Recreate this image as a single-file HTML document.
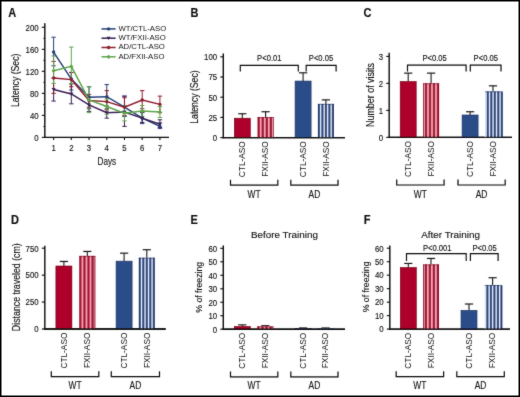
<!DOCTYPE html><html><head><meta charset="utf-8"><style>html,body{margin:0;padding:0;background:#fff;}svg{display:block;}text{font-family:"Liberation Sans",sans-serif;stroke:#141414;stroke-width:0.14px;} text.n{stroke-width:0;}</style></head><body>
<div style="will-change:transform;width:520px;height:397px">
<svg width="520" height="397" viewBox="0 0 520 397">
<defs><filter id="bl" x="-1%" y="-1%" width="102%" height="102%"><feConvolveMatrix order="3" kernelMatrix="0.02 0.06 0.02 0.06 0.68 0.06 0.02 0.06 0.02" divisor="1" edgeMode="duplicate" preserveAlpha="false"/></filter></defs>
<rect x="0" y="0" width="520" height="397" fill="#fff"/>
<g filter="url(#bl)">
<text x="8.20" y="16.50" font-size="12.0" text-anchor="start" font-weight="bold" fill="#111" textLength="7.97" lengthAdjust="spacingAndGlyphs">A</text>
<text x="190.40" y="16.50" font-size="12.0" text-anchor="start" font-weight="bold" fill="#111" textLength="7.97" lengthAdjust="spacingAndGlyphs">B</text>
<text x="363.60" y="16.50" font-size="12.0" text-anchor="start" font-weight="bold" fill="#111" textLength="7.97" lengthAdjust="spacingAndGlyphs">C</text>
<text x="11.00" y="223.80" font-size="12.0" text-anchor="start" font-weight="bold" fill="#111" textLength="7.97" lengthAdjust="spacingAndGlyphs">D</text>
<text x="190.60" y="223.80" font-size="12.0" text-anchor="start" font-weight="bold" fill="#111" textLength="7.36" lengthAdjust="spacingAndGlyphs">E</text>
<text x="363.80" y="223.80" font-size="12.0" text-anchor="start" font-weight="bold" fill="#111" textLength="6.74" lengthAdjust="spacingAndGlyphs">F</text>
<line x1="44.80" y1="23.20" x2="44.80" y2="138.00" stroke="#0a0a0a" stroke-width="1.4" />
<line x1="41.80" y1="137.40" x2="44.80" y2="137.40" stroke="#0a0a0a" stroke-width="1.1" />
<text x="38.60" y="140.70" font-size="8.4" text-anchor="end" font-weight="normal" fill="#141414" textLength="4.34" lengthAdjust="spacingAndGlyphs">0</text>
<line x1="41.80" y1="115.38" x2="44.80" y2="115.38" stroke="#0a0a0a" stroke-width="1.1" />
<text x="38.60" y="118.68" font-size="8.4" text-anchor="end" font-weight="normal" fill="#141414" textLength="8.69" lengthAdjust="spacingAndGlyphs">40</text>
<line x1="41.80" y1="93.36" x2="44.80" y2="93.36" stroke="#0a0a0a" stroke-width="1.1" />
<text x="38.60" y="96.66" font-size="8.4" text-anchor="end" font-weight="normal" fill="#141414" textLength="8.69" lengthAdjust="spacingAndGlyphs">80</text>
<line x1="41.80" y1="71.34" x2="44.80" y2="71.34" stroke="#0a0a0a" stroke-width="1.1" />
<text x="38.60" y="74.64" font-size="8.4" text-anchor="end" font-weight="normal" fill="#141414" textLength="13.03" lengthAdjust="spacingAndGlyphs">120</text>
<line x1="41.80" y1="49.32" x2="44.80" y2="49.32" stroke="#0a0a0a" stroke-width="1.1" />
<text x="38.60" y="52.62" font-size="8.4" text-anchor="end" font-weight="normal" fill="#141414" textLength="13.03" lengthAdjust="spacingAndGlyphs">160</text>
<line x1="41.80" y1="27.30" x2="44.80" y2="27.30" stroke="#0a0a0a" stroke-width="1.1" />
<text x="38.60" y="30.60" font-size="8.4" text-anchor="end" font-weight="normal" fill="#141414" textLength="13.03" lengthAdjust="spacingAndGlyphs">200</text>
<line x1="43.30" y1="126.39" x2="44.80" y2="126.39" stroke="#0a0a0a" stroke-width="0.9" />
<line x1="43.30" y1="104.37" x2="44.80" y2="104.37" stroke="#0a0a0a" stroke-width="0.9" />
<line x1="43.30" y1="82.35" x2="44.80" y2="82.35" stroke="#0a0a0a" stroke-width="0.9" />
<line x1="43.30" y1="60.33" x2="44.80" y2="60.33" stroke="#0a0a0a" stroke-width="0.9" />
<line x1="43.30" y1="38.31" x2="44.80" y2="38.31" stroke="#0a0a0a" stroke-width="0.9" />
<line x1="44.10" y1="137.40" x2="169.00" y2="137.40" stroke="#0a0a0a" stroke-width="1.4" />
<line x1="53.60" y1="137.40" x2="53.60" y2="140.00" stroke="#0a0a0a" stroke-width="1.1" />
<text x="53.60" y="151.40" font-size="8.4" text-anchor="middle" font-weight="normal" fill="#141414" textLength="4.34" lengthAdjust="spacingAndGlyphs">1</text>
<line x1="71.32" y1="137.40" x2="71.32" y2="140.00" stroke="#0a0a0a" stroke-width="1.1" />
<text x="71.32" y="151.40" font-size="8.4" text-anchor="middle" font-weight="normal" fill="#141414" textLength="4.34" lengthAdjust="spacingAndGlyphs">2</text>
<line x1="89.04" y1="137.40" x2="89.04" y2="140.00" stroke="#0a0a0a" stroke-width="1.1" />
<text x="89.04" y="151.40" font-size="8.4" text-anchor="middle" font-weight="normal" fill="#141414" textLength="4.34" lengthAdjust="spacingAndGlyphs">3</text>
<line x1="106.76" y1="137.40" x2="106.76" y2="140.00" stroke="#0a0a0a" stroke-width="1.1" />
<text x="106.76" y="151.40" font-size="8.4" text-anchor="middle" font-weight="normal" fill="#141414" textLength="4.34" lengthAdjust="spacingAndGlyphs">4</text>
<line x1="124.48" y1="137.40" x2="124.48" y2="140.00" stroke="#0a0a0a" stroke-width="1.1" />
<text x="124.48" y="151.40" font-size="8.4" text-anchor="middle" font-weight="normal" fill="#141414" textLength="4.34" lengthAdjust="spacingAndGlyphs">5</text>
<line x1="142.20" y1="137.40" x2="142.20" y2="140.00" stroke="#0a0a0a" stroke-width="1.1" />
<text x="142.20" y="151.40" font-size="8.4" text-anchor="middle" font-weight="normal" fill="#141414" textLength="4.34" lengthAdjust="spacingAndGlyphs">6</text>
<line x1="159.92" y1="137.40" x2="159.92" y2="140.00" stroke="#0a0a0a" stroke-width="1.1" />
<text x="159.92" y="151.40" font-size="8.4" text-anchor="middle" font-weight="normal" fill="#141414" textLength="4.34" lengthAdjust="spacingAndGlyphs">7</text>
<text x="106.80" y="164.50" font-size="10.2" text-anchor="middle" font-weight="normal" fill="#141414" textLength="18.59" lengthAdjust="spacingAndGlyphs">Days</text>
<text x="19.50" y="80.35" font-size="10.2" text-anchor="middle" font-weight="normal" fill="#141414" transform="rotate(-90 19.50 80.35)" textLength="53.55" lengthAdjust="spacingAndGlyphs">Latency (Sec)</text>
<line x1="53.60" y1="65.84" x2="53.60" y2="37.21" stroke="#283f78" stroke-width="1.0" />
<line x1="51.40" y1="65.84" x2="55.80" y2="65.84" stroke="#283f78" stroke-width="1.0" />
<line x1="51.40" y1="37.21" x2="55.80" y2="37.21" stroke="#283f78" stroke-width="1.0" />
<line x1="71.32" y1="90.06" x2="71.32" y2="72.44" stroke="#283f78" stroke-width="1.0" />
<line x1="69.12" y1="90.06" x2="73.52" y2="90.06" stroke="#283f78" stroke-width="1.0" />
<line x1="69.12" y1="72.44" x2="73.52" y2="72.44" stroke="#283f78" stroke-width="1.0" />
<line x1="89.04" y1="108.77" x2="89.04" y2="86.75" stroke="#283f78" stroke-width="1.0" />
<line x1="86.84" y1="108.77" x2="91.24" y2="108.77" stroke="#283f78" stroke-width="1.0" />
<line x1="86.84" y1="86.75" x2="91.24" y2="86.75" stroke="#283f78" stroke-width="1.0" />
<line x1="106.76" y1="108.77" x2="106.76" y2="84.55" stroke="#283f78" stroke-width="1.0" />
<line x1="104.56" y1="108.77" x2="108.96" y2="108.77" stroke="#283f78" stroke-width="1.0" />
<line x1="104.56" y1="84.55" x2="108.96" y2="84.55" stroke="#283f78" stroke-width="1.0" />
<line x1="124.48" y1="116.48" x2="124.48" y2="96.11" stroke="#283f78" stroke-width="1.0" />
<line x1="122.28" y1="116.48" x2="126.68" y2="116.48" stroke="#283f78" stroke-width="1.0" />
<line x1="122.28" y1="96.11" x2="126.68" y2="96.11" stroke="#283f78" stroke-width="1.0" />
<line x1="142.20" y1="123.64" x2="142.20" y2="112.08" stroke="#283f78" stroke-width="1.0" />
<line x1="140.00" y1="123.64" x2="144.40" y2="123.64" stroke="#283f78" stroke-width="1.0" />
<line x1="140.00" y1="112.08" x2="144.40" y2="112.08" stroke="#283f78" stroke-width="1.0" />
<line x1="159.92" y1="128.59" x2="159.92" y2="123.09" stroke="#283f78" stroke-width="1.0" />
<line x1="157.72" y1="128.59" x2="162.12" y2="128.59" stroke="#283f78" stroke-width="1.0" />
<line x1="157.72" y1="123.09" x2="162.12" y2="123.09" stroke="#283f78" stroke-width="1.0" />
<line x1="53.60" y1="101.07" x2="53.60" y2="77.95" stroke="#3a1f55" stroke-width="1.0" />
<line x1="51.40" y1="101.07" x2="55.80" y2="101.07" stroke="#3a1f55" stroke-width="1.0" />
<line x1="51.40" y1="77.95" x2="55.80" y2="77.95" stroke="#3a1f55" stroke-width="1.0" />
<line x1="71.32" y1="103.82" x2="71.32" y2="84.00" stroke="#3a1f55" stroke-width="1.0" />
<line x1="69.12" y1="103.82" x2="73.52" y2="103.82" stroke="#3a1f55" stroke-width="1.0" />
<line x1="69.12" y1="84.00" x2="73.52" y2="84.00" stroke="#3a1f55" stroke-width="1.0" />
<line x1="89.04" y1="111.53" x2="89.04" y2="97.21" stroke="#3a1f55" stroke-width="1.0" />
<line x1="86.84" y1="111.53" x2="91.24" y2="111.53" stroke="#3a1f55" stroke-width="1.0" />
<line x1="86.84" y1="97.21" x2="91.24" y2="97.21" stroke="#3a1f55" stroke-width="1.0" />
<line x1="106.76" y1="118.13" x2="106.76" y2="106.02" stroke="#3a1f55" stroke-width="1.0" />
<line x1="104.56" y1="118.13" x2="108.96" y2="118.13" stroke="#3a1f55" stroke-width="1.0" />
<line x1="104.56" y1="106.02" x2="108.96" y2="106.02" stroke="#3a1f55" stroke-width="1.0" />
<line x1="124.48" y1="126.39" x2="124.48" y2="96.11" stroke="#3a1f55" stroke-width="1.0" />
<line x1="122.28" y1="126.39" x2="126.68" y2="126.39" stroke="#3a1f55" stroke-width="1.0" />
<line x1="122.28" y1="96.11" x2="126.68" y2="96.11" stroke="#3a1f55" stroke-width="1.0" />
<line x1="142.20" y1="122.54" x2="142.20" y2="112.63" stroke="#3a1f55" stroke-width="1.0" />
<line x1="140.00" y1="122.54" x2="144.40" y2="122.54" stroke="#3a1f55" stroke-width="1.0" />
<line x1="140.00" y1="112.63" x2="144.40" y2="112.63" stroke="#3a1f55" stroke-width="1.0" />
<line x1="159.92" y1="127.49" x2="159.92" y2="119.78" stroke="#3a1f55" stroke-width="1.0" />
<line x1="157.72" y1="127.49" x2="162.12" y2="127.49" stroke="#3a1f55" stroke-width="1.0" />
<line x1="157.72" y1="119.78" x2="162.12" y2="119.78" stroke="#3a1f55" stroke-width="1.0" />
<line x1="53.60" y1="93.36" x2="53.60" y2="61.43" stroke="#8e1b2d" stroke-width="1.0" />
<line x1="51.40" y1="93.36" x2="55.80" y2="93.36" stroke="#8e1b2d" stroke-width="1.0" />
<line x1="51.40" y1="61.43" x2="55.80" y2="61.43" stroke="#8e1b2d" stroke-width="1.0" />
<line x1="71.32" y1="86.75" x2="71.32" y2="72.44" stroke="#8e1b2d" stroke-width="1.0" />
<line x1="69.12" y1="86.75" x2="73.52" y2="86.75" stroke="#8e1b2d" stroke-width="1.0" />
<line x1="69.12" y1="72.44" x2="73.52" y2="72.44" stroke="#8e1b2d" stroke-width="1.0" />
<line x1="89.04" y1="107.12" x2="89.04" y2="94.46" stroke="#8e1b2d" stroke-width="1.0" />
<line x1="86.84" y1="107.12" x2="91.24" y2="107.12" stroke="#8e1b2d" stroke-width="1.0" />
<line x1="86.84" y1="94.46" x2="91.24" y2="94.46" stroke="#8e1b2d" stroke-width="1.0" />
<line x1="106.76" y1="109.88" x2="106.76" y2="90.61" stroke="#8e1b2d" stroke-width="1.0" />
<line x1="104.56" y1="109.88" x2="108.96" y2="109.88" stroke="#8e1b2d" stroke-width="1.0" />
<line x1="104.56" y1="90.61" x2="108.96" y2="90.61" stroke="#8e1b2d" stroke-width="1.0" />
<line x1="124.48" y1="115.38" x2="124.48" y2="97.76" stroke="#8e1b2d" stroke-width="1.0" />
<line x1="122.28" y1="115.38" x2="126.68" y2="115.38" stroke="#8e1b2d" stroke-width="1.0" />
<line x1="122.28" y1="97.76" x2="126.68" y2="97.76" stroke="#8e1b2d" stroke-width="1.0" />
<line x1="142.20" y1="108.77" x2="142.20" y2="90.61" stroke="#8e1b2d" stroke-width="1.0" />
<line x1="140.00" y1="108.77" x2="144.40" y2="108.77" stroke="#8e1b2d" stroke-width="1.0" />
<line x1="140.00" y1="90.61" x2="144.40" y2="90.61" stroke="#8e1b2d" stroke-width="1.0" />
<line x1="159.92" y1="112.63" x2="159.92" y2="96.11" stroke="#8e1b2d" stroke-width="1.0" />
<line x1="157.72" y1="112.63" x2="162.12" y2="112.63" stroke="#8e1b2d" stroke-width="1.0" />
<line x1="157.72" y1="96.11" x2="162.12" y2="96.11" stroke="#8e1b2d" stroke-width="1.0" />
<line x1="53.60" y1="83.45" x2="53.60" y2="55.93" stroke="#5ea44c" stroke-width="1.0" />
<line x1="51.40" y1="83.45" x2="55.80" y2="83.45" stroke="#5ea44c" stroke-width="1.0" />
<line x1="51.40" y1="55.93" x2="55.80" y2="55.93" stroke="#5ea44c" stroke-width="1.0" />
<line x1="71.32" y1="83.45" x2="71.32" y2="47.12" stroke="#5ea44c" stroke-width="1.0" />
<line x1="69.12" y1="83.45" x2="73.52" y2="83.45" stroke="#5ea44c" stroke-width="1.0" />
<line x1="69.12" y1="47.12" x2="73.52" y2="47.12" stroke="#5ea44c" stroke-width="1.0" />
<line x1="89.04" y1="112.63" x2="89.04" y2="86.75" stroke="#5ea44c" stroke-width="1.0" />
<line x1="86.84" y1="112.63" x2="91.24" y2="112.63" stroke="#5ea44c" stroke-width="1.0" />
<line x1="86.84" y1="86.75" x2="91.24" y2="86.75" stroke="#5ea44c" stroke-width="1.0" />
<line x1="106.76" y1="114.28" x2="106.76" y2="98.87" stroke="#5ea44c" stroke-width="1.0" />
<line x1="104.56" y1="114.28" x2="108.96" y2="114.28" stroke="#5ea44c" stroke-width="1.0" />
<line x1="104.56" y1="98.87" x2="108.96" y2="98.87" stroke="#5ea44c" stroke-width="1.0" />
<line x1="124.48" y1="120.89" x2="124.48" y2="105.47" stroke="#5ea44c" stroke-width="1.0" />
<line x1="122.28" y1="120.89" x2="126.68" y2="120.89" stroke="#5ea44c" stroke-width="1.0" />
<line x1="122.28" y1="105.47" x2="126.68" y2="105.47" stroke="#5ea44c" stroke-width="1.0" />
<line x1="142.20" y1="116.48" x2="142.20" y2="105.47" stroke="#5ea44c" stroke-width="1.0" />
<line x1="140.00" y1="116.48" x2="144.40" y2="116.48" stroke="#5ea44c" stroke-width="1.0" />
<line x1="140.00" y1="105.47" x2="144.40" y2="105.47" stroke="#5ea44c" stroke-width="1.0" />
<line x1="159.92" y1="117.58" x2="159.92" y2="106.57" stroke="#5ea44c" stroke-width="1.0" />
<line x1="157.72" y1="117.58" x2="162.12" y2="117.58" stroke="#5ea44c" stroke-width="1.0" />
<line x1="157.72" y1="106.57" x2="162.12" y2="106.57" stroke="#5ea44c" stroke-width="1.0" />
<polyline points="53.60,52.07 71.32,79.05 89.04,97.21 106.76,96.66 124.48,107.12 142.20,118.13 159.92,126.39" fill="none" stroke="#283f78" stroke-width="1.5"/>
<circle cx="53.60" cy="52.07" r="1.7" fill="#283f78"/>
<circle cx="71.32" cy="79.05" r="1.7" fill="#283f78"/>
<circle cx="89.04" cy="97.21" r="1.7" fill="#283f78"/>
<circle cx="106.76" cy="96.66" r="1.7" fill="#283f78"/>
<circle cx="124.48" cy="107.12" r="1.7" fill="#283f78"/>
<circle cx="142.20" cy="118.13" r="1.7" fill="#283f78"/>
<circle cx="159.92" cy="126.39" r="1.7" fill="#283f78"/>
<polyline points="53.60,89.51 71.32,93.91 89.04,104.92 106.76,112.63 124.48,112.08 142.20,118.13 159.92,124.19" fill="none" stroke="#3a1f55" stroke-width="1.5"/>
<polygon points="51.60,88.01 55.60,88.01 53.60,91.31" fill="#3a1f55"/>
<polygon points="69.32,92.41 73.32,92.41 71.32,95.71" fill="#3a1f55"/>
<polygon points="87.04,103.42 91.04,103.42 89.04,106.72" fill="#3a1f55"/>
<polygon points="104.76,111.13 108.76,111.13 106.76,114.43" fill="#3a1f55"/>
<polygon points="122.48,110.58 126.48,110.58 124.48,113.88" fill="#3a1f55"/>
<polygon points="140.20,116.63 144.20,116.63 142.20,119.93" fill="#3a1f55"/>
<polygon points="157.92,122.69 161.92,122.69 159.92,125.99" fill="#3a1f55"/>
<polyline points="53.60,77.95 71.32,79.60 89.04,100.52 106.76,101.62 124.48,107.12 142.20,99.97 159.92,104.37" fill="none" stroke="#8e1b2d" stroke-width="1.5"/>
<circle cx="53.60" cy="77.95" r="1.7" fill="#8e1b2d"/>
<circle cx="71.32" cy="79.60" r="1.7" fill="#8e1b2d"/>
<circle cx="89.04" cy="100.52" r="1.7" fill="#8e1b2d"/>
<circle cx="106.76" cy="101.62" r="1.7" fill="#8e1b2d"/>
<circle cx="124.48" cy="107.12" r="1.7" fill="#8e1b2d"/>
<circle cx="142.20" cy="99.97" r="1.7" fill="#8e1b2d"/>
<circle cx="159.92" cy="104.37" r="1.7" fill="#8e1b2d"/>
<polyline points="53.60,70.79 71.32,66.39 89.04,99.97 106.76,106.57 124.48,113.18 142.20,110.98 159.92,112.08" fill="none" stroke="#5ea44c" stroke-width="1.5"/>
<polygon points="53.60,68.69 55.70,70.79 53.60,72.89 51.50,70.79" fill="#5ea44c"/>
<polygon points="71.32,64.29 73.42,66.39 71.32,68.49 69.22,66.39" fill="#5ea44c"/>
<polygon points="89.04,97.87 91.14,99.97 89.04,102.07 86.94,99.97" fill="#5ea44c"/>
<polygon points="106.76,104.47 108.86,106.57 106.76,108.67 104.66,106.57" fill="#5ea44c"/>
<polygon points="124.48,111.08 126.58,113.18 124.48,115.28 122.38,113.18" fill="#5ea44c"/>
<polygon points="142.20,108.88 144.30,110.98 142.20,113.08 140.10,110.98" fill="#5ea44c"/>
<polygon points="159.92,109.98 162.02,112.08 159.92,114.18 157.82,112.08" fill="#5ea44c"/>
<line x1="101.50" y1="28.90" x2="115.60" y2="28.90" stroke="#283f78" stroke-width="1.5" />
<circle cx="108.60" cy="28.90" r="1.7" fill="#283f78"/>
<text class="n" x="118.40" y="30.80" font-size="7.75" text-anchor="start" font-weight="normal" fill="#141414">WT/CTL-ASO</text>
<line x1="101.50" y1="38.20" x2="115.60" y2="38.20" stroke="#3a1f55" stroke-width="1.5" />
<polygon points="106.60,36.70 110.60,36.70 108.60,40.00" fill="#3a1f55"/>
<text class="n" x="118.40" y="40.10" font-size="7.75" text-anchor="start" font-weight="normal" fill="#141414">WT/FXII-ASO</text>
<line x1="101.50" y1="47.50" x2="115.60" y2="47.50" stroke="#8e1b2d" stroke-width="1.5" />
<circle cx="108.60" cy="47.50" r="1.7" fill="#8e1b2d"/>
<text class="n" x="118.40" y="49.40" font-size="7.75" text-anchor="start" font-weight="normal" fill="#141414">AD/CTL-ASO</text>
<line x1="101.50" y1="56.80" x2="115.60" y2="56.80" stroke="#5ea44c" stroke-width="1.5" />
<polygon points="108.60,54.70 110.70,56.80 108.60,58.90 106.50,56.80" fill="#5ea44c"/>
<text class="n" x="118.40" y="58.70" font-size="7.75" text-anchor="start" font-weight="normal" fill="#141414">AD/FXII-ASO</text>
<line x1="223.30" y1="53.40" x2="223.30" y2="138.20" stroke="#0a0a0a" stroke-width="1.4" />
<line x1="220.30" y1="137.60" x2="223.30" y2="137.60" stroke="#0a0a0a" stroke-width="1.1" />
<text x="217.10" y="140.90" font-size="8.4" text-anchor="end" font-weight="normal" fill="#141414" textLength="4.34" lengthAdjust="spacingAndGlyphs">0</text>
<line x1="220.30" y1="117.40" x2="223.30" y2="117.40" stroke="#0a0a0a" stroke-width="1.1" />
<text x="217.10" y="120.70" font-size="8.4" text-anchor="end" font-weight="normal" fill="#141414" textLength="8.69" lengthAdjust="spacingAndGlyphs">25</text>
<line x1="220.30" y1="97.20" x2="223.30" y2="97.20" stroke="#0a0a0a" stroke-width="1.1" />
<text x="217.10" y="100.50" font-size="8.4" text-anchor="end" font-weight="normal" fill="#141414" textLength="8.69" lengthAdjust="spacingAndGlyphs">50</text>
<line x1="220.30" y1="77.00" x2="223.30" y2="77.00" stroke="#0a0a0a" stroke-width="1.1" />
<text x="217.10" y="80.30" font-size="8.4" text-anchor="end" font-weight="normal" fill="#141414" textLength="8.69" lengthAdjust="spacingAndGlyphs">75</text>
<line x1="220.30" y1="56.80" x2="223.30" y2="56.80" stroke="#0a0a0a" stroke-width="1.1" />
<text x="217.10" y="60.10" font-size="8.4" text-anchor="end" font-weight="normal" fill="#141414" textLength="13.03" lengthAdjust="spacingAndGlyphs">100</text>
<line x1="222.60" y1="137.60" x2="345.00" y2="137.60" stroke="#0a0a0a" stroke-width="1.4" />
<line x1="242.30" y1="118.21" x2="242.30" y2="113.76" stroke="#1a1a1a" stroke-width="1.1" />
<line x1="238.20" y1="113.76" x2="246.40" y2="113.76" stroke="#1a1a1a" stroke-width="1.2" />
<rect x="234.30" y="118.21" width="16.00" height="19.39" fill="#ad0329" stroke="#6a0018" stroke-width="0.6"/>
<line x1="265.60" y1="117.24" x2="265.60" y2="111.74" stroke="#1a1a1a" stroke-width="1.1" />
<line x1="261.50" y1="111.74" x2="269.70" y2="111.74" stroke="#1a1a1a" stroke-width="1.2" />
<rect x="257.60" y="117.24" width="16.00" height="20.36" fill="#f79cb1"/>
<rect x="257.60" y="117.24" width="2.20" height="20.36" fill="#9c0a2c"/>
<rect x="261.65" y="117.24" width="2.20" height="20.36" fill="#9c0a2c"/>
<rect x="265.70" y="117.24" width="2.20" height="20.36" fill="#9c0a2c"/>
<rect x="269.75" y="117.24" width="2.20" height="20.36" fill="#9c0a2c"/>
<rect x="272.90" y="117.24" width="0.7" height="20.36" fill="#6a0018"/>
<line x1="257.60" y1="117.54" x2="273.60" y2="117.54" stroke="#6a0018" stroke-width="0.6"/>
<line x1="303.10" y1="81.04" x2="303.10" y2="72.80" stroke="#1a1a1a" stroke-width="1.1" />
<line x1="299.00" y1="72.80" x2="307.20" y2="72.80" stroke="#1a1a1a" stroke-width="1.2" />
<rect x="295.10" y="81.04" width="16.00" height="56.56" fill="#2c4d8a" stroke="#1c2f58" stroke-width="0.6"/>
<line x1="325.90" y1="103.99" x2="325.90" y2="99.87" stroke="#1a1a1a" stroke-width="1.1" />
<line x1="321.80" y1="99.87" x2="330.00" y2="99.87" stroke="#1a1a1a" stroke-width="1.2" />
<rect x="317.90" y="103.99" width="16.00" height="33.61" fill="#d6e2fa"/>
<rect x="317.90" y="103.99" width="2.00" height="33.61" fill="#223a6e"/>
<rect x="321.40" y="103.99" width="2.00" height="33.61" fill="#223a6e"/>
<rect x="324.90" y="103.99" width="2.00" height="33.61" fill="#223a6e"/>
<rect x="328.40" y="103.99" width="2.00" height="33.61" fill="#223a6e"/>
<rect x="331.90" y="103.99" width="2.00" height="33.61" fill="#223a6e"/>
<line x1="317.90" y1="104.29" x2="333.90" y2="104.29" stroke="#1c2f58" stroke-width="0.6"/>
<line x1="222.60" y1="137.60" x2="345.00" y2="137.60" stroke="#0a0a0a" stroke-width="1.4" />
<text class="n" x="245.16" y="141.20" font-size="8.3" text-anchor="end" font-weight="normal" fill="#141414" transform="rotate(-90 245.16 141.20)" textLength="35.97" lengthAdjust="spacingAndGlyphs">CTL-ASO</text>
<text class="n" x="268.46" y="141.20" font-size="8.3" text-anchor="end" font-weight="normal" fill="#141414" transform="rotate(-90 268.46 141.20)" textLength="35.51" lengthAdjust="spacingAndGlyphs">FXII-ASO</text>
<text class="n" x="305.96" y="141.20" font-size="8.3" text-anchor="end" font-weight="normal" fill="#141414" transform="rotate(-90 305.96 141.20)" textLength="35.97" lengthAdjust="spacingAndGlyphs">CTL-ASO</text>
<text class="n" x="328.76" y="141.20" font-size="8.3" text-anchor="end" font-weight="normal" fill="#141414" transform="rotate(-90 328.76 141.20)" textLength="35.51" lengthAdjust="spacingAndGlyphs">FXII-ASO</text>
<polyline points="230.50,179.80 230.50,185.20 277.80,185.20 277.80,179.80" fill="none" stroke="#0a0a0a" stroke-width="1.2"/>
<text x="254.15" y="197.70" font-size="10.0" text-anchor="middle" font-weight="normal" fill="#141414" textLength="13.06" lengthAdjust="spacingAndGlyphs">WT</text>
<polyline points="290.80,179.80 290.80,185.20 338.00,185.20 338.00,179.80" fill="none" stroke="#0a0a0a" stroke-width="1.2"/>
<text x="314.40" y="197.70" font-size="10.0" text-anchor="middle" font-weight="normal" fill="#141414" textLength="11.67" lengthAdjust="spacingAndGlyphs">AD</text>
<text x="198.10" y="97.05" font-size="10.2" text-anchor="middle" font-weight="normal" fill="#141414" transform="rotate(-90 198.10 97.05)" textLength="53.35" lengthAdjust="spacingAndGlyphs">Latency (Sec)</text>
<polyline points="240.30,71.40 240.30,65.30 298.30,65.30 298.30,71.40" fill="none" stroke="#0a0a0a" stroke-width="1.15"/>
<text x="269.30" y="61.40" font-size="8.2" text-anchor="middle" font-weight="normal" fill="#141414" textLength="24.38" lengthAdjust="spacingAndGlyphs">P&lt;0.01</text>
<polyline points="306.20,71.40 306.20,65.30 336.10,65.30 336.10,71.40" fill="none" stroke="#0a0a0a" stroke-width="1.15"/>
<text x="321.00" y="61.40" font-size="8.2" text-anchor="middle" font-weight="normal" fill="#141414" textLength="24.38" lengthAdjust="spacingAndGlyphs">P&lt;0.05</text>
<line x1="389.20" y1="52.80" x2="389.20" y2="138.00" stroke="#0a0a0a" stroke-width="1.4" />
<line x1="386.20" y1="137.40" x2="389.20" y2="137.40" stroke="#0a0a0a" stroke-width="1.1" />
<text x="383.00" y="140.70" font-size="8.4" text-anchor="end" font-weight="normal" fill="#141414" textLength="4.34" lengthAdjust="spacingAndGlyphs">0</text>
<line x1="386.20" y1="110.40" x2="389.20" y2="110.40" stroke="#0a0a0a" stroke-width="1.1" />
<text x="383.00" y="113.70" font-size="8.4" text-anchor="end" font-weight="normal" fill="#141414" textLength="4.34" lengthAdjust="spacingAndGlyphs">1</text>
<line x1="386.20" y1="83.40" x2="389.20" y2="83.40" stroke="#0a0a0a" stroke-width="1.1" />
<text x="383.00" y="86.70" font-size="8.4" text-anchor="end" font-weight="normal" fill="#141414" textLength="4.34" lengthAdjust="spacingAndGlyphs">2</text>
<line x1="386.20" y1="56.40" x2="389.20" y2="56.40" stroke="#0a0a0a" stroke-width="1.1" />
<text x="383.00" y="59.70" font-size="8.4" text-anchor="end" font-weight="normal" fill="#141414" textLength="4.34" lengthAdjust="spacingAndGlyphs">3</text>
<line x1="388.50" y1="137.40" x2="511.90" y2="137.40" stroke="#0a0a0a" stroke-width="1.4" />
<line x1="408.20" y1="81.51" x2="408.20" y2="73.14" stroke="#1a1a1a" stroke-width="1.1" />
<line x1="404.10" y1="73.14" x2="412.30" y2="73.14" stroke="#1a1a1a" stroke-width="1.2" />
<rect x="400.20" y="81.51" width="16.00" height="55.89" fill="#ad0329" stroke="#6a0018" stroke-width="0.6"/>
<line x1="431.10" y1="83.40" x2="431.10" y2="73.14" stroke="#1a1a1a" stroke-width="1.1" />
<line x1="427.00" y1="73.14" x2="435.20" y2="73.14" stroke="#1a1a1a" stroke-width="1.2" />
<rect x="423.10" y="83.40" width="16.00" height="54.00" fill="#f79cb1"/>
<rect x="424.90" y="83.40" width="2.20" height="54.00" fill="#9c0a2c"/>
<rect x="428.90" y="83.40" width="2.20" height="54.00" fill="#9c0a2c"/>
<rect x="432.90" y="83.40" width="2.20" height="54.00" fill="#9c0a2c"/>
<rect x="436.90" y="83.40" width="2.20" height="54.00" fill="#9c0a2c"/>
<rect x="423.10" y="83.40" width="0.7" height="54.00" fill="#6a0018"/>
<line x1="423.10" y1="83.70" x2="439.10" y2="83.70" stroke="#6a0018" stroke-width="0.6"/>
<line x1="470.10" y1="114.99" x2="470.10" y2="111.75" stroke="#1a1a1a" stroke-width="1.1" />
<line x1="466.00" y1="111.75" x2="474.20" y2="111.75" stroke="#1a1a1a" stroke-width="1.2" />
<rect x="462.10" y="114.99" width="16.00" height="22.41" fill="#2c4d8a" stroke="#1c2f58" stroke-width="0.6"/>
<line x1="493.00" y1="91.50" x2="493.00" y2="85.83" stroke="#1a1a1a" stroke-width="1.1" />
<line x1="488.90" y1="85.83" x2="497.10" y2="85.83" stroke="#1a1a1a" stroke-width="1.2" />
<rect x="485.00" y="91.50" width="16.00" height="45.90" fill="#d6e2fa"/>
<rect x="486.80" y="91.50" width="2.00" height="45.90" fill="#223a6e"/>
<rect x="490.30" y="91.50" width="2.00" height="45.90" fill="#223a6e"/>
<rect x="493.80" y="91.50" width="2.00" height="45.90" fill="#223a6e"/>
<rect x="497.30" y="91.50" width="2.00" height="45.90" fill="#223a6e"/>
<rect x="500.80" y="91.50" width="2.00" height="45.90" fill="#223a6e"/>
<line x1="485.00" y1="91.80" x2="501.00" y2="91.80" stroke="#1c2f58" stroke-width="0.6"/>
<line x1="388.50" y1="137.40" x2="511.90" y2="137.40" stroke="#0a0a0a" stroke-width="1.4" />
<text class="n" x="411.06" y="141.00" font-size="8.3" text-anchor="end" font-weight="normal" fill="#141414" transform="rotate(-90 411.06 141.00)" textLength="35.97" lengthAdjust="spacingAndGlyphs">CTL-ASO</text>
<text class="n" x="433.96" y="141.00" font-size="8.3" text-anchor="end" font-weight="normal" fill="#141414" transform="rotate(-90 433.96 141.00)" textLength="35.51" lengthAdjust="spacingAndGlyphs">FXII-ASO</text>
<text class="n" x="472.96" y="141.00" font-size="8.3" text-anchor="end" font-weight="normal" fill="#141414" transform="rotate(-90 472.96 141.00)" textLength="35.97" lengthAdjust="spacingAndGlyphs">CTL-ASO</text>
<text class="n" x="495.86" y="141.00" font-size="8.3" text-anchor="end" font-weight="normal" fill="#141414" transform="rotate(-90 495.86 141.00)" textLength="35.51" lengthAdjust="spacingAndGlyphs">FXII-ASO</text>
<polyline points="396.70,179.60 396.70,185.00 444.10,185.00 444.10,179.60" fill="none" stroke="#0a0a0a" stroke-width="1.2"/>
<text x="420.40" y="197.50" font-size="10.0" text-anchor="middle" font-weight="normal" fill="#141414" textLength="13.06" lengthAdjust="spacingAndGlyphs">WT</text>
<polyline points="458.00,179.60 458.00,185.00 505.20,185.00 505.20,179.60" fill="none" stroke="#0a0a0a" stroke-width="1.2"/>
<text x="481.60" y="197.50" font-size="10.0" text-anchor="middle" font-weight="normal" fill="#141414" textLength="11.67" lengthAdjust="spacingAndGlyphs">AD</text>
<text x="373.60" y="95.05" font-size="10.2" text-anchor="middle" font-weight="normal" fill="#141414" transform="rotate(-90 373.60 95.05)" textLength="63.95" lengthAdjust="spacingAndGlyphs">Number of visits</text>
<polyline points="407.50,71.50 407.50,65.10 466.10,65.10 466.10,71.50" fill="none" stroke="#0a0a0a" stroke-width="1.15"/>
<text x="434.60" y="61.10" font-size="8.2" text-anchor="middle" font-weight="normal" fill="#141414" textLength="24.38" lengthAdjust="spacingAndGlyphs">P&lt;0.05</text>
<polyline points="470.30,71.50 470.30,65.10 501.00,65.10 501.00,71.50" fill="none" stroke="#0a0a0a" stroke-width="1.15"/>
<text x="485.80" y="61.10" font-size="8.2" text-anchor="middle" font-weight="normal" fill="#141414" textLength="24.38" lengthAdjust="spacingAndGlyphs">P&lt;0.05</text>
<line x1="44.80" y1="245.80" x2="44.80" y2="329.60" stroke="#0a0a0a" stroke-width="1.4" />
<line x1="41.80" y1="329.00" x2="44.80" y2="329.00" stroke="#0a0a0a" stroke-width="1.1" />
<text x="38.60" y="332.30" font-size="8.4" text-anchor="end" font-weight="normal" fill="#141414" textLength="4.34" lengthAdjust="spacingAndGlyphs">0</text>
<line x1="41.80" y1="302.07" x2="44.80" y2="302.07" stroke="#0a0a0a" stroke-width="1.1" />
<text x="38.60" y="305.38" font-size="8.4" text-anchor="end" font-weight="normal" fill="#141414" textLength="13.03" lengthAdjust="spacingAndGlyphs">250</text>
<line x1="41.80" y1="275.15" x2="44.80" y2="275.15" stroke="#0a0a0a" stroke-width="1.1" />
<text x="38.60" y="278.45" font-size="8.4" text-anchor="end" font-weight="normal" fill="#141414" textLength="13.03" lengthAdjust="spacingAndGlyphs">500</text>
<line x1="41.80" y1="248.22" x2="44.80" y2="248.22" stroke="#0a0a0a" stroke-width="1.1" />
<text x="38.60" y="251.53" font-size="8.4" text-anchor="end" font-weight="normal" fill="#141414" textLength="13.03" lengthAdjust="spacingAndGlyphs">750</text>
<line x1="44.10" y1="329.00" x2="165.70" y2="329.00" stroke="#0a0a0a" stroke-width="1.4" />
<line x1="63.90" y1="266.00" x2="63.90" y2="261.47" stroke="#1a1a1a" stroke-width="1.1" />
<line x1="59.80" y1="261.47" x2="68.00" y2="261.47" stroke="#1a1a1a" stroke-width="1.2" />
<rect x="55.90" y="266.00" width="16.00" height="63.00" fill="#ad0329" stroke="#6a0018" stroke-width="0.6"/>
<line x1="87.30" y1="255.98" x2="87.30" y2="251.46" stroke="#1a1a1a" stroke-width="1.1" />
<line x1="83.20" y1="251.46" x2="91.40" y2="251.46" stroke="#1a1a1a" stroke-width="1.2" />
<rect x="79.30" y="255.98" width="16.00" height="73.02" fill="#f79cb1"/>
<rect x="79.30" y="255.98" width="2.20" height="73.02" fill="#9c0a2c"/>
<rect x="83.35" y="255.98" width="2.20" height="73.02" fill="#9c0a2c"/>
<rect x="87.40" y="255.98" width="2.20" height="73.02" fill="#9c0a2c"/>
<rect x="91.45" y="255.98" width="2.20" height="73.02" fill="#9c0a2c"/>
<rect x="94.60" y="255.98" width="0.7" height="73.02" fill="#6a0018"/>
<line x1="79.30" y1="256.28" x2="95.30" y2="256.28" stroke="#6a0018" stroke-width="0.6"/>
<line x1="124.10" y1="261.15" x2="124.10" y2="253.18" stroke="#1a1a1a" stroke-width="1.1" />
<line x1="120.00" y1="253.18" x2="128.20" y2="253.18" stroke="#1a1a1a" stroke-width="1.2" />
<rect x="116.10" y="261.15" width="16.00" height="67.85" fill="#2c4d8a" stroke="#1c2f58" stroke-width="0.6"/>
<line x1="146.80" y1="257.81" x2="146.80" y2="249.73" stroke="#1a1a1a" stroke-width="1.1" />
<line x1="142.70" y1="249.73" x2="150.90" y2="249.73" stroke="#1a1a1a" stroke-width="1.2" />
<rect x="138.80" y="257.81" width="16.00" height="71.19" fill="#d6e2fa"/>
<rect x="138.80" y="257.81" width="2.00" height="71.19" fill="#223a6e"/>
<rect x="142.30" y="257.81" width="2.00" height="71.19" fill="#223a6e"/>
<rect x="145.80" y="257.81" width="2.00" height="71.19" fill="#223a6e"/>
<rect x="149.30" y="257.81" width="2.00" height="71.19" fill="#223a6e"/>
<rect x="152.80" y="257.81" width="2.00" height="71.19" fill="#223a6e"/>
<line x1="138.80" y1="258.11" x2="154.80" y2="258.11" stroke="#1c2f58" stroke-width="0.6"/>
<line x1="44.10" y1="329.00" x2="165.70" y2="329.00" stroke="#0a0a0a" stroke-width="1.4" />
<text class="n" x="66.76" y="332.60" font-size="8.3" text-anchor="end" font-weight="normal" fill="#141414" transform="rotate(-90 66.76 332.60)" textLength="35.97" lengthAdjust="spacingAndGlyphs">CTL-ASO</text>
<text class="n" x="90.16" y="332.60" font-size="8.3" text-anchor="end" font-weight="normal" fill="#141414" transform="rotate(-90 90.16 332.60)" textLength="35.51" lengthAdjust="spacingAndGlyphs">FXII-ASO</text>
<text class="n" x="126.96" y="332.60" font-size="8.3" text-anchor="end" font-weight="normal" fill="#141414" transform="rotate(-90 126.96 332.60)" textLength="35.97" lengthAdjust="spacingAndGlyphs">CTL-ASO</text>
<text class="n" x="149.66" y="332.60" font-size="8.3" text-anchor="end" font-weight="normal" fill="#141414" transform="rotate(-90 149.66 332.60)" textLength="35.51" lengthAdjust="spacingAndGlyphs">FXII-ASO</text>
<polyline points="51.30,371.20 51.30,376.60 98.80,376.60 98.80,371.20" fill="none" stroke="#0a0a0a" stroke-width="1.2"/>
<text x="75.05" y="389.10" font-size="10.0" text-anchor="middle" font-weight="normal" fill="#141414" textLength="13.06" lengthAdjust="spacingAndGlyphs">WT</text>
<polyline points="111.30,371.20 111.30,376.60 159.50,376.60 159.50,371.20" fill="none" stroke="#0a0a0a" stroke-width="1.2"/>
<text x="135.40" y="389.10" font-size="10.0" text-anchor="middle" font-weight="normal" fill="#141414" textLength="11.67" lengthAdjust="spacingAndGlyphs">AD</text>
<text x="19.70" y="287.20" font-size="10.2" text-anchor="middle" font-weight="normal" fill="#141414" transform="rotate(-90 19.70 287.20)" textLength="87.87" lengthAdjust="spacingAndGlyphs">Distance traveled (cm)</text>
<line x1="223.30" y1="245.40" x2="223.30" y2="329.80" stroke="#0a0a0a" stroke-width="1.4" />
<line x1="220.30" y1="329.20" x2="223.30" y2="329.20" stroke="#0a0a0a" stroke-width="1.1" />
<text x="217.10" y="332.50" font-size="8.4" text-anchor="end" font-weight="normal" fill="#141414" textLength="4.34" lengthAdjust="spacingAndGlyphs">0</text>
<line x1="220.30" y1="315.72" x2="223.30" y2="315.72" stroke="#0a0a0a" stroke-width="1.1" />
<text x="217.10" y="319.02" font-size="8.4" text-anchor="end" font-weight="normal" fill="#141414" textLength="8.69" lengthAdjust="spacingAndGlyphs">10</text>
<line x1="220.30" y1="302.24" x2="223.30" y2="302.24" stroke="#0a0a0a" stroke-width="1.1" />
<text x="217.10" y="305.54" font-size="8.4" text-anchor="end" font-weight="normal" fill="#141414" textLength="8.69" lengthAdjust="spacingAndGlyphs">20</text>
<line x1="220.30" y1="288.76" x2="223.30" y2="288.76" stroke="#0a0a0a" stroke-width="1.1" />
<text x="217.10" y="292.06" font-size="8.4" text-anchor="end" font-weight="normal" fill="#141414" textLength="8.69" lengthAdjust="spacingAndGlyphs">30</text>
<line x1="220.30" y1="275.28" x2="223.30" y2="275.28" stroke="#0a0a0a" stroke-width="1.1" />
<text x="217.10" y="278.58" font-size="8.4" text-anchor="end" font-weight="normal" fill="#141414" textLength="8.69" lengthAdjust="spacingAndGlyphs">40</text>
<line x1="220.30" y1="261.80" x2="223.30" y2="261.80" stroke="#0a0a0a" stroke-width="1.1" />
<text x="217.10" y="265.10" font-size="8.4" text-anchor="end" font-weight="normal" fill="#141414" textLength="8.69" lengthAdjust="spacingAndGlyphs">50</text>
<line x1="220.30" y1="248.32" x2="223.30" y2="248.32" stroke="#0a0a0a" stroke-width="1.1" />
<text x="217.10" y="251.62" font-size="8.4" text-anchor="end" font-weight="normal" fill="#141414" textLength="8.69" lengthAdjust="spacingAndGlyphs">60</text>
<line x1="222.60" y1="329.20" x2="345.00" y2="329.20" stroke="#0a0a0a" stroke-width="1.4" />
<line x1="242.30" y1="326.50" x2="242.30" y2="324.89" stroke="#1a1a1a" stroke-width="1.1" />
<line x1="238.20" y1="324.89" x2="246.40" y2="324.89" stroke="#1a1a1a" stroke-width="1.2" />
<rect x="234.30" y="326.50" width="16.00" height="2.70" fill="#ad0329" stroke="#6a0018" stroke-width="0.6"/>
<line x1="265.30" y1="326.50" x2="265.30" y2="325.70" stroke="#1a1a1a" stroke-width="1.1" />
<line x1="261.20" y1="325.70" x2="269.40" y2="325.70" stroke="#1a1a1a" stroke-width="1.2" />
<rect x="257.30" y="326.50" width="16.00" height="2.70" fill="#f79cb1"/>
<rect x="257.30" y="326.50" width="2.20" height="2.70" fill="#9c0a2c"/>
<rect x="261.35" y="326.50" width="2.20" height="2.70" fill="#9c0a2c"/>
<rect x="265.40" y="326.50" width="2.20" height="2.70" fill="#9c0a2c"/>
<rect x="269.45" y="326.50" width="2.20" height="2.70" fill="#9c0a2c"/>
<rect x="272.60" y="326.50" width="0.7" height="2.70" fill="#6a0018"/>
<line x1="257.30" y1="326.80" x2="273.30" y2="326.80" stroke="#6a0018" stroke-width="0.6"/>
<line x1="303.10" y1="328.39" x2="303.10" y2="327.99" stroke="#1a1a1a" stroke-width="1.1" />
<line x1="299.00" y1="327.99" x2="307.20" y2="327.99" stroke="#1a1a1a" stroke-width="1.2" />
<rect x="295.10" y="328.39" width="16.00" height="0.81" fill="#2c4d8a" stroke="#1c2f58" stroke-width="0.6"/>
<line x1="325.60" y1="328.39" x2="325.60" y2="327.99" stroke="#1a1a1a" stroke-width="1.1" />
<line x1="321.50" y1="327.99" x2="329.70" y2="327.99" stroke="#1a1a1a" stroke-width="1.2" />
<rect x="317.60" y="328.39" width="16.00" height="0.81" fill="#d6e2fa"/>
<rect x="317.60" y="328.39" width="2.00" height="0.81" fill="#223a6e"/>
<rect x="321.10" y="328.39" width="2.00" height="0.81" fill="#223a6e"/>
<rect x="324.60" y="328.39" width="2.00" height="0.81" fill="#223a6e"/>
<rect x="328.10" y="328.39" width="2.00" height="0.81" fill="#223a6e"/>
<rect x="331.60" y="328.39" width="2.00" height="0.81" fill="#223a6e"/>
<line x1="317.60" y1="328.69" x2="333.60" y2="328.69" stroke="#1c2f58" stroke-width="0.6"/>
<line x1="222.60" y1="329.20" x2="345.00" y2="329.20" stroke="#0a0a0a" stroke-width="1.4" />
<text class="n" x="245.16" y="332.80" font-size="8.3" text-anchor="end" font-weight="normal" fill="#141414" transform="rotate(-90 245.16 332.80)" textLength="35.97" lengthAdjust="spacingAndGlyphs">CTL-ASO</text>
<text class="n" x="268.16" y="332.80" font-size="8.3" text-anchor="end" font-weight="normal" fill="#141414" transform="rotate(-90 268.16 332.80)" textLength="35.51" lengthAdjust="spacingAndGlyphs">FXII-ASO</text>
<text class="n" x="305.96" y="332.80" font-size="8.3" text-anchor="end" font-weight="normal" fill="#141414" transform="rotate(-90 305.96 332.80)" textLength="35.97" lengthAdjust="spacingAndGlyphs">CTL-ASO</text>
<text class="n" x="328.46" y="332.80" font-size="8.3" text-anchor="end" font-weight="normal" fill="#141414" transform="rotate(-90 328.46 332.80)" textLength="35.51" lengthAdjust="spacingAndGlyphs">FXII-ASO</text>
<polyline points="230.50,371.40 230.50,376.80 277.80,376.80 277.80,371.40" fill="none" stroke="#0a0a0a" stroke-width="1.2"/>
<text x="254.15" y="389.30" font-size="10.0" text-anchor="middle" font-weight="normal" fill="#141414" textLength="13.06" lengthAdjust="spacingAndGlyphs">WT</text>
<polyline points="290.80,371.40 290.80,376.80 338.00,376.80 338.00,371.40" fill="none" stroke="#0a0a0a" stroke-width="1.2"/>
<text x="314.40" y="389.30" font-size="10.0" text-anchor="middle" font-weight="normal" fill="#141414" textLength="11.67" lengthAdjust="spacingAndGlyphs">AD</text>
<text x="202.40" y="287.30" font-size="9.3" text-anchor="middle" font-weight="normal" fill="#141414" transform="rotate(-90 202.40 287.30)" textLength="50.87" lengthAdjust="spacingAndGlyphs">% of freezing</text>
<text x="284.40" y="238.00" font-size="9.9" text-anchor="middle" font-weight="normal" fill="#141414">Before Training</text>
<line x1="389.80" y1="245.40" x2="389.80" y2="329.70" stroke="#0a0a0a" stroke-width="1.4" />
<line x1="386.80" y1="329.10" x2="389.80" y2="329.10" stroke="#0a0a0a" stroke-width="1.1" />
<text x="383.60" y="332.40" font-size="8.4" text-anchor="end" font-weight="normal" fill="#141414" textLength="4.34" lengthAdjust="spacingAndGlyphs">0</text>
<line x1="386.80" y1="315.62" x2="389.80" y2="315.62" stroke="#0a0a0a" stroke-width="1.1" />
<text x="383.60" y="318.92" font-size="8.4" text-anchor="end" font-weight="normal" fill="#141414" textLength="8.69" lengthAdjust="spacingAndGlyphs">10</text>
<line x1="386.80" y1="302.14" x2="389.80" y2="302.14" stroke="#0a0a0a" stroke-width="1.1" />
<text x="383.60" y="305.44" font-size="8.4" text-anchor="end" font-weight="normal" fill="#141414" textLength="8.69" lengthAdjust="spacingAndGlyphs">20</text>
<line x1="386.80" y1="288.66" x2="389.80" y2="288.66" stroke="#0a0a0a" stroke-width="1.1" />
<text x="383.60" y="291.96" font-size="8.4" text-anchor="end" font-weight="normal" fill="#141414" textLength="8.69" lengthAdjust="spacingAndGlyphs">30</text>
<line x1="386.80" y1="275.18" x2="389.80" y2="275.18" stroke="#0a0a0a" stroke-width="1.1" />
<text x="383.60" y="278.48" font-size="8.4" text-anchor="end" font-weight="normal" fill="#141414" textLength="8.69" lengthAdjust="spacingAndGlyphs">40</text>
<line x1="386.80" y1="261.70" x2="389.80" y2="261.70" stroke="#0a0a0a" stroke-width="1.1" />
<text x="383.60" y="265.00" font-size="8.4" text-anchor="end" font-weight="normal" fill="#141414" textLength="8.69" lengthAdjust="spacingAndGlyphs">50</text>
<line x1="386.80" y1="248.22" x2="389.80" y2="248.22" stroke="#0a0a0a" stroke-width="1.1" />
<text x="383.60" y="251.52" font-size="8.4" text-anchor="end" font-weight="normal" fill="#141414" textLength="8.69" lengthAdjust="spacingAndGlyphs">60</text>
<line x1="389.10" y1="329.10" x2="510.00" y2="329.10" stroke="#0a0a0a" stroke-width="1.4" />
<line x1="408.30" y1="267.50" x2="408.30" y2="263.45" stroke="#1a1a1a" stroke-width="1.1" />
<line x1="404.20" y1="263.45" x2="412.40" y2="263.45" stroke="#1a1a1a" stroke-width="1.2" />
<rect x="400.30" y="267.50" width="16.00" height="61.60" fill="#ad0329" stroke="#6a0018" stroke-width="0.6"/>
<line x1="431.00" y1="264.53" x2="431.00" y2="258.46" stroke="#1a1a1a" stroke-width="1.1" />
<line x1="426.90" y1="258.46" x2="435.10" y2="258.46" stroke="#1a1a1a" stroke-width="1.2" />
<rect x="423.00" y="264.53" width="16.00" height="64.57" fill="#f79cb1"/>
<rect x="424.80" y="264.53" width="2.20" height="64.57" fill="#9c0a2c"/>
<rect x="428.80" y="264.53" width="2.20" height="64.57" fill="#9c0a2c"/>
<rect x="432.80" y="264.53" width="2.20" height="64.57" fill="#9c0a2c"/>
<rect x="436.80" y="264.53" width="2.20" height="64.57" fill="#9c0a2c"/>
<rect x="423.00" y="264.53" width="0.7" height="64.57" fill="#6a0018"/>
<line x1="423.00" y1="264.83" x2="439.00" y2="264.83" stroke="#6a0018" stroke-width="0.6"/>
<line x1="469.00" y1="310.36" x2="469.00" y2="304.03" stroke="#1a1a1a" stroke-width="1.1" />
<line x1="464.90" y1="304.03" x2="473.10" y2="304.03" stroke="#1a1a1a" stroke-width="1.2" />
<rect x="461.00" y="310.36" width="16.00" height="18.74" fill="#2c4d8a" stroke="#1c2f58" stroke-width="0.6"/>
<line x1="492.60" y1="285.16" x2="492.60" y2="277.74" stroke="#1a1a1a" stroke-width="1.1" />
<line x1="488.50" y1="277.74" x2="496.70" y2="277.74" stroke="#1a1a1a" stroke-width="1.2" />
<rect x="484.60" y="285.16" width="16.00" height="43.94" fill="#d6e2fa"/>
<rect x="486.40" y="285.16" width="2.00" height="43.94" fill="#223a6e"/>
<rect x="489.90" y="285.16" width="2.00" height="43.94" fill="#223a6e"/>
<rect x="493.40" y="285.16" width="2.00" height="43.94" fill="#223a6e"/>
<rect x="496.90" y="285.16" width="2.00" height="43.94" fill="#223a6e"/>
<rect x="500.40" y="285.16" width="2.00" height="43.94" fill="#223a6e"/>
<line x1="484.60" y1="285.46" x2="500.60" y2="285.46" stroke="#1c2f58" stroke-width="0.6"/>
<line x1="389.10" y1="329.10" x2="510.00" y2="329.10" stroke="#0a0a0a" stroke-width="1.4" />
<text class="n" x="411.16" y="332.70" font-size="8.3" text-anchor="end" font-weight="normal" fill="#141414" transform="rotate(-90 411.16 332.70)" textLength="35.97" lengthAdjust="spacingAndGlyphs">CTL-ASO</text>
<text class="n" x="433.86" y="332.70" font-size="8.3" text-anchor="end" font-weight="normal" fill="#141414" transform="rotate(-90 433.86 332.70)" textLength="35.51" lengthAdjust="spacingAndGlyphs">FXII-ASO</text>
<text class="n" x="471.86" y="332.70" font-size="8.3" text-anchor="end" font-weight="normal" fill="#141414" transform="rotate(-90 471.86 332.70)" textLength="35.97" lengthAdjust="spacingAndGlyphs">CTL-ASO</text>
<text class="n" x="495.46" y="332.70" font-size="8.3" text-anchor="end" font-weight="normal" fill="#141414" transform="rotate(-90 495.46 332.70)" textLength="35.51" lengthAdjust="spacingAndGlyphs">FXII-ASO</text>
<polyline points="396.20,371.30 396.20,376.70 443.60,376.70 443.60,371.30" fill="none" stroke="#0a0a0a" stroke-width="1.2"/>
<text x="419.90" y="389.20" font-size="10.0" text-anchor="middle" font-weight="normal" fill="#141414" textLength="13.06" lengthAdjust="spacingAndGlyphs">WT</text>
<polyline points="456.80,371.30 456.80,376.70 504.30,376.70 504.30,371.30" fill="none" stroke="#0a0a0a" stroke-width="1.2"/>
<text x="480.55" y="389.20" font-size="10.0" text-anchor="middle" font-weight="normal" fill="#141414" textLength="11.67" lengthAdjust="spacingAndGlyphs">AD</text>
<text x="369.40" y="286.90" font-size="9.3" text-anchor="middle" font-weight="normal" fill="#141414" transform="rotate(-90 369.40 286.90)" textLength="50.77" lengthAdjust="spacingAndGlyphs">% of freezing</text>
<text x="450.60" y="238.00" font-size="9.9" text-anchor="middle" font-weight="normal" fill="#141414">After Training</text>
<polyline points="406.50,261.00 406.50,253.60 466.20,253.60 466.20,261.00" fill="none" stroke="#0a0a0a" stroke-width="1.15"/>
<text x="437.20" y="251.00" font-size="8.2" text-anchor="middle" font-weight="normal" fill="#141414" textLength="28.62" lengthAdjust="spacingAndGlyphs">P&lt;0.001</text>
<polyline points="470.40,261.00 470.40,253.60 498.10,253.60 498.10,261.00" fill="none" stroke="#0a0a0a" stroke-width="1.15"/>
<text x="484.60" y="251.00" font-size="8.2" text-anchor="middle" font-weight="normal" fill="#141414" textLength="24.38" lengthAdjust="spacingAndGlyphs">P&lt;0.05</text>
</g>
<rect x="0.75" y="0.75" width="518.5" height="395.5" fill="none" stroke="#000" stroke-width="1.5"/>
</svg></div></body></html>
